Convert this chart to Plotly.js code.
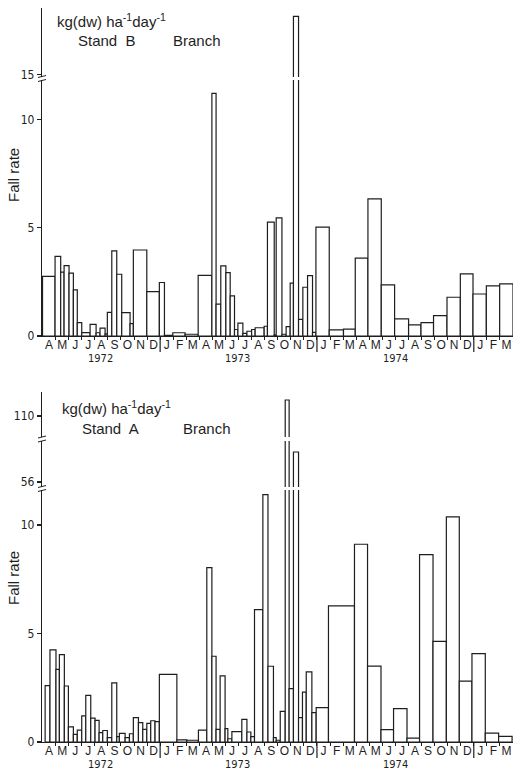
<!DOCTYPE html>
<html>
<head>
<meta charset="utf-8">
<script src="https://cdn.plot.ly/plotly-3.0.1.min.js"></script>
<style>html,body{margin:0;padding:0;background:#fff}#chart{width:513px;height:770px}</style>
</head>
<body>
<div id="chart"></div>
<script>
// Month axis: 0 = start of April 1972, 36 = end of March 1975
const monthLetters = ['A','M','J','J','A','S','O','N','D','J','F','M'];
const yearLabels = ['1972','1973','1974'];
const yearLabelPos = [4.4, 14.9, 27.0];
const yearBoundaries = [9, 21, 33];

// Stand B, branch fall: collection interval edges (months) and fall rate (kg dw ha-1 day-1)
const edgesB = [0, 0.96, 1.39, 1.65, 2.03, 2.36, 2.66, 3.0, 3.64, 4.1, 4.4, 4.79, 4.96, 5.3, 5.68, 6.06, 6.7, 6.95, 7.98, 8.94, 9.33, 9.97, 10.91, 11.91, 12.96, 13.28, 13.64, 14.03, 14.36, 14.69, 14.95, 15.33, 15.64, 16.0, 16.27, 16.96, 17.21, 17.73, 17.88, 18.32, 18.64, 18.95, 19.2, 19.59, 19.92, 20.28, 20.66, 20.92, 21.94, 23.03, 23.93, 24.9, 25.92, 26.94, 28.01, 28.96, 29.92, 30.95, 31.97, 32.94, 33.96, 34.98, 36.0];
const valuesB = [2.75, 3.68, 2.95, 3.25, 2.9, 2.13, 0.62, 0.16, 0.54, 0.15, 0.36, 0.1, 1.09, 3.93, 2.85, 1.08, 0.57, 3.97, 2.05, 2.47, 0.03, 0.15, 0.08, 2.8, 11.2, 1.47, 3.24, 2.93, 1.85, 0.3, 0.59, 0.12, 0.22, 0.3, 0.38, 0.45, 5.26, 0.05, 5.45, 0.08, 0.43, 2.44, 17.7, 0.77, 2.25, 2.79, 0.17, 5.03, 0.28, 0.32, 3.6, 6.33, 2.36, 0.79, 0.51, 0.62, 0.94, 1.79, 2.87, 1.94, 2.31, 2.41];

// Stand A, branch fall
const edgesA = [0.2, 0.57, 1.03, 1.29, 1.67, 1.98, 2.36, 2.66, 3.0, 3.31, 3.69, 4.02, 4.33, 4.61, 4.96, 5.3, 5.68, 5.88, 6.32, 6.65, 6.95, 7.34, 7.67, 7.98, 8.28, 8.61, 8.94, 10.28, 11.04, 11.93, 12.57, 12.96, 13.28, 13.59, 13.97, 14.18, 14.49, 15.25, 15.64, 15.94, 16.22, 16.86, 17.25, 17.67, 17.88, 18.19, 18.57, 18.87, 19.2, 19.59, 19.89, 20.18, 20.61, 20.94, 21.88, 23.87, 24.87, 25.9, 26.86, 27.89, 28.85, 29.88, 30.9, 31.89, 32.86, 33.88, 34.9, 35.93];
const valuesA = [2.6, 4.24, 3.35, 4.03, 2.58, 0.7, 0.35, 0.55, 1.2, 2.15, 1.1, 1.0, 0.43, 0.53, 0.2, 2.72, 0.25, 0.4, 0.2, 0.38, 1.12, 0.89, 0.58, 0.86, 0.98, 0.94, 3.12, 0.1, 0.08, 0.55, 8.03, 3.95, 0.58, 3.05, 0.62, 0.15, 0.48, 1.04, 0.46, 0.25, 6.1, 11.4, 3.49, 0.2, 0.08, 1.41, 113.2, 2.46, 62.0, 1.12, 2.3, 3.23, 1.35, 1.58, 6.27, 9.11, 3.5, 0.57, 1.54, 0.18, 8.63, 4.64, 10.37, 2.8, 4.07, 0.41, 0.26];

const W = 513, H = 770, L = 42;
const px = x => (x - L) / (W - L);
const py = y => 1 - y / H;

const ink = '#1e1e1e';
const tickFont = {family: '"Liberation Sans Narrow", "DejaVu Sans Condensed", "Arial Narrow", sans-serif', size: 12, color: ink};
const monthFont = {family: '"Liberation Sans", Arial, sans-serif', size: 12, color: ink};
const textFont = {family: '"Liberation Sans", Arial, sans-serif', size: 15, color: ink};

function barTrace(edges, vals, xa, ya) {
  const x = [], w = [];
  for (let i = 0; i < vals.length; i++) {
    x.push((edges[i] + edges[i + 1]) / 2);
    w.push(edges[i + 1] - edges[i]);
  }
  return {type: 'bar', x: x, y: vals, width: w, xaxis: xa, yaxis: ya,
    marker: {color: 'white', line: {color: ink, width: 1.2}},
    hoverinfo: 'skip', showlegend: false};
}

const data = [
  barTrace(edgesB, valuesB, 'x', 'y'),
  barTrace(edgesB, valuesB, 'x', 'y2'),
  barTrace(edgesA, valuesA, 'x2', 'y3'),
  barTrace(edgesA, valuesA, 'x2', 'y4'),
  barTrace(edgesA, valuesA, 'x2', 'y5')
];

const tickvals = [], ticktext = [], minorvals = [];
for (let i = 0; i < 36; i++) { tickvals.push(i + 0.5); ticktext.push(monthLetters[i % 12]); }
for (let i = 1; i < 36; i++) minorvals.push(i);

function xAxis(anchor) {
  return {anchor: anchor, domain: [0, 1], range: [-0.04, 36], tickmode: 'array', tickvals: tickvals, ticktext: ticktext,
    ticks: '', ticklabelstandoff: -3, showline: true, linecolor: ink, linewidth: 1.2, showgrid: false, zeroline: false, tickfont: monthFont,
    fixedrange: true,
    minor: {tickmode: 'array', tickvals: minorvals, ticks: 'outside', ticklen: 3, tickcolor: ink, showgrid: false}};
}
function yAxis(anchor, domain, range, tv) {
  return {anchor: anchor, domain: domain, range: range, tickmode: 'array', tickvals: tv, ticks: 'outside', ticklen: 4,
    tickcolor: ink, tickwidth: 1.2, showline: true, linecolor: ink, linewidth: 1.2, showgrid: false, zeroline: false,
    tickfont: tickFont, fixedrange: true};
}

const annotations = [];
function addText(text, x, y, opts) {
  annotations.push(Object.assign({text: text, xref: 'paper', yref: 'paper', x: px(x), y: py(y), showarrow: false,
    font: textFont, xanchor: 'center', yanchor: 'middle'}, opts || {}));
}
addText('kg(dw) ha<sup>-1</sup>day<sup>-1</sup>', 55, 21, {xanchor: 'left'});
addText('Stand  B', 107, 41);
addText('Branch', 197, 41);
addText('kg(dw) ha<sup>-1</sup>day<sup>-1</sup>', 60, 408, {xanchor: 'left'});
addText('Stand  A', 110, 428);
addText('Branch', 207, 428);
addText('Fall rate', 13, 175, {textangle: -90});
addText('Fall rate', 13, 578, {textangle: -90});
const yearFont = Object.assign({}, tickFont, {size: 11});
for (let i = 0; i < yearLabels.length; i++) {
  annotations.push({text: yearLabels[i], xref: 'x', yref: 'paper', x: yearLabelPos[i], y: py(358), showarrow: false,
    font: yearFont, yanchor: 'middle'});
  annotations.push({text: yearLabels[i], xref: 'x2', yref: 'paper', x: yearLabelPos[i], y: py(764), showarrow: false,
    font: yearFont, yanchor: 'middle'});
}

const shapes = [];
for (const b of yearBoundaries) {
  shapes.push({type: 'line', xref: 'x', yref: 'paper', x0: b, x1: b, y0: py(336), y1: py(352), line: {color: ink, width: 1.2}});
  shapes.push({type: 'line', xref: 'x2', yref: 'paper', x0: b, x1: b, y0: py(742), y1: py(758), line: {color: ink, width: 1.2}});
}
// axis break marks
function breakMark(yc) {
  shapes.push({type: 'line', xref: 'paper', yref: 'paper', x0: px(38), x1: px(46), y0: py(yc + 3), y1: py(yc + 1), line: {color: ink, width: 1}});
  shapes.push({type: 'line', xref: 'paper', yref: 'paper', x0: px(38), x1: px(46), y0: py(yc - 1), y1: py(yc - 3), line: {color: ink, width: 1}});
}
breakMark(78.5);
breakMark(488.5);
breakMark(439);

const layout = {
  width: W, height: H, margin: {l: L, r: 0, t: 0, b: 0},
  paper_bgcolor: 'white', plot_bgcolor: 'white', barmode: 'overlay', showlegend: false,
  xaxis: xAxis('y'),
  xaxis2: xAxis('y3'),
  yaxis: yAxis('x', [py(336), py(80)], [0, 11.82], [0, 5, 10]),
  yaxis2: yAxis('x', [py(77), py(8)], [14.9, 18.09], [15]),
  yaxis3: yAxis('x2', [py(742), py(490)], [0, 11.61], [0, 5, 10]),
  yaxis4: yAxis('x2', [py(487), py(441)], [55, 64.2], [56]),
  yaxis5: yAxis('x2', [py(437), py(392)], [105.8, 114.8], [110]),
  annotations: annotations,
  shapes: shapes
};

Plotly.newPlot('chart', data, layout, {displayModeBar: false, staticPlot: true});
</script>
</body>
</html>
